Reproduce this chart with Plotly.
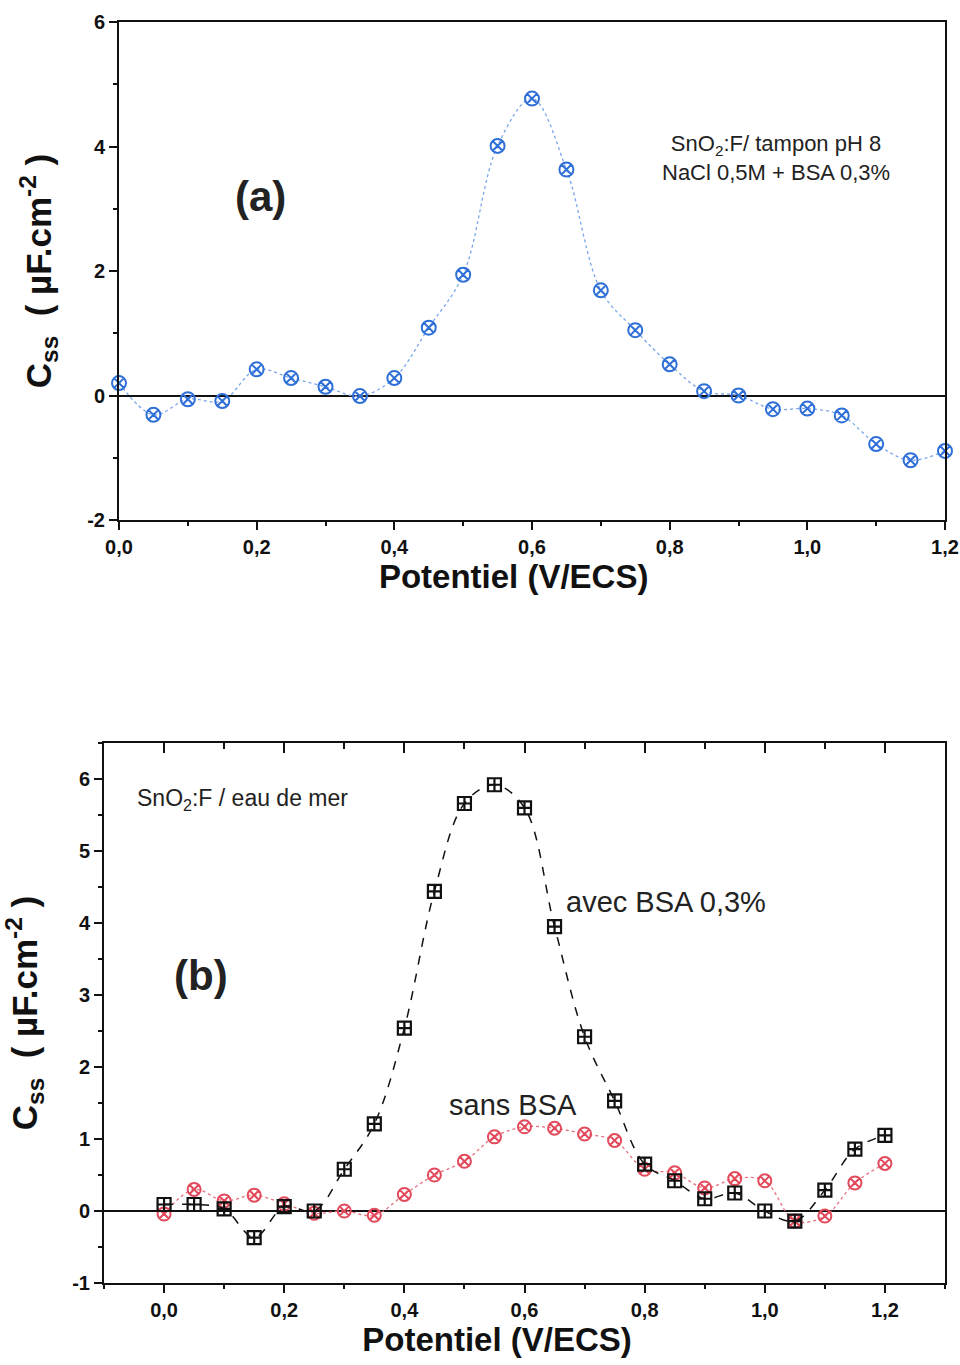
import plotly.graph_objects as go

# ---------------- data ----------------
pot_a = [0.0, 0.05, 0.10, 0.15, 0.20, 0.25, 0.30, 0.35, 0.40, 0.45, 0.50, 0.55, 0.60,
         0.65, 0.70, 0.75, 0.80, 0.85, 0.90, 0.95, 1.00, 1.05, 1.10, 1.15, 1.20]
css_a = [0.20, -0.31, -0.06, -0.09, 0.42, 0.28, 0.14, -0.01, 0.28, 1.09, 1.94, 4.01, 4.77,
         3.63, 1.69, 1.05, 0.50, 0.07, 0.00, -0.22, -0.21, -0.32, -0.78, -1.04, -0.89]

pot_b = pot_a
css_avec = [0.09, 0.09, 0.03, -0.37, 0.06, 0.00, 0.58, 1.21, 2.54, 4.44, 5.66, 5.92, 5.60,
            3.95, 2.42, 1.53, 0.65, 0.42, 0.17, 0.25, 0.00, -0.14, 0.29, 0.86, 1.05]
css_sans = [-0.04, 0.30, 0.14, 0.22, 0.10, -0.03, 0.00, -0.06, 0.23, 0.50, 0.69, 1.03, 1.17,
            1.15, 1.07, 0.98, 0.58, 0.53, 0.32, 0.45, 0.42, -0.14, -0.07, 0.39, 0.66]

xticks_a = [0.0, 0.2, 0.4, 0.6, 0.8, 1.0, 1.2]
xticklabels = ["0,0", "0,2", "0,4", "0,6", "0,8", "1,0", "1,2"]
yticks_a = [-2, 0, 2, 4, 6]
yticklabels_a = ["-2", "0", "2", "4", "6"]
yticks_b = [-1, 0, 1, 2, 3, 4, 5, 6]
yticklabels_b = ["-1", "0", "1", "2", "3", "4", "5", "6"]

# ---------------- geometry helpers ----------------
W, H, OFF = 960, 1365, 0


def px(X):
    return (X - OFF) / W


def py(Y):
    return 1 - (Y - OFF) / H


# ---------------- figure ----------------
FONT = "Liberation Sans, Arial, sans-serif"
fig = go.Figure()

fig.add_trace(go.Scatter(
    x=pot_a, y=css_a, mode="lines+markers", xaxis="x", yaxis="y",
    line=dict(color="#7aa6ea", width=1.3, dash="dot", shape="spline", smoothing=1.0),
    marker=dict(symbol="circle-x-open", size=14, color="#2f6fd8", line=dict(width=2)),
    showlegend=False, cliponaxis=False))

fig.add_trace(go.Scatter(
    x=pot_b, y=css_sans, mode="lines+markers", xaxis="x2", yaxis="y2",
    line=dict(color="#e8707e", width=1.3, dash="dot", shape="spline", smoothing=1.0),
    marker=dict(symbol="circle-x-open", size=13, color="#e24a5c", line=dict(width=2)),
    showlegend=False, cliponaxis=False))

fig.add_trace(go.Scatter(
    x=pot_b, y=css_avec, mode="lines+markers", xaxis="x2", yaxis="y2",
    line=dict(color="#111111", width=1.5, dash="dash", shape="spline", smoothing=1.0),
    marker=dict(symbol="square-cross-open", size=13, color="#111111", line=dict(width=2.2)),
    showlegend=False, cliponaxis=False))

tickfont = dict(family=FONT, size=20, color="#111111", weight="bold")
titlefont = dict(family=FONT, size=33, color="#111111", weight="bold")
ytitlefont = dict(family=FONT, size=35, color="#111111", weight="bold")

common_x = dict(showline=True, linecolor="#111111", linewidth=2, mirror=True,
                ticks="outside", ticklen=8, tickwidth=2, tickcolor="#111111",
                tickvals=xticks_a, ticktext=xticklabels, tickfont=tickfont,
                showgrid=False, zeroline=False, automargin=False,
                ticklabeloverflow="allow",
                minor=dict(ticks="outside", ticklen=4, tickwidth=2, dtick=0.1,
                           tickcolor="#111111", showgrid=False))

NB = "&nbsp;"
YTITLE = "C<sub>ss</sub>" + NB * 2 + "(" + NB + "µF.cm<sup>-2</sup>" + NB + ")"
fig.update_layout(
    width=W, height=H,
    margin=dict(l=0, r=0, t=0, b=0),
    paper_bgcolor="white", plot_bgcolor="white",
    xaxis=dict(common_x, domain=[px(119), px(945)], range=[0, 1.2], anchor="y",
               title=dict(text="Potentiel (V/ECS)" + NB * 4, font=titlefont, standoff=6)),
    yaxis=dict(domain=[py(520), py(22)], range=[-2, 6], anchor="x",
               showline=True, linecolor="#111111", linewidth=2, mirror=True,
               ticks="outside", ticklen=8, tickwidth=2, tickcolor="#111111",
               tickvals=yticks_a, ticktext=yticklabels_a, tickfont=tickfont,
               showgrid=False, zeroline=True, zerolinecolor="#111111", zerolinewidth=2,
               automargin=False, ticklabeloverflow="allow",
               minor=dict(ticks="outside", ticklen=4, tickwidth=2, dtick=1,
                          tickcolor="#111111", showgrid=False),
               title=dict(text=YTITLE, font=ytitlefont, standoff=25)),
    xaxis2=dict(common_x, domain=[px(104), px(945)], range=[-0.1, 1.3], anchor="y2",
                title=dict(text="Potentiel (V/ECS)" + NB * 6, font=titlefont, standoff=4)),
    xaxis3=dict(domain=[px(104), px(945)], range=[-0.1, 1.3], anchor="y2", overlaying="x2",
                side="top", showline=False, ticks="inside", ticklen=10, tickwidth=2,
                tickcolor="#111111", tickvals=xticks_a, showticklabels=False,
                showgrid=False, zeroline=False, automargin=False,
                minor=dict(ticks="inside", ticklen=6, tickwidth=2, dtick=0.1,
                           tickcolor="#111111", showgrid=False)),
    yaxis2=dict(domain=[py(1283), py(743)], range=[-1, 6.5], anchor="x2",
                showline=True, linecolor="#111111", linewidth=2, mirror=True,
                ticks="outside", ticklen=8, tickwidth=2, tickcolor="#111111",
                tickvals=yticks_b, ticktext=yticklabels_b, tickfont=tickfont,
                showgrid=False, zeroline=True, zerolinecolor="#111111", zerolinewidth=2,
                automargin=False, ticklabeloverflow="allow",
                minor=dict(ticks="outside", ticklen=4, tickwidth=2, dtick=0.5,
                           tickcolor="#111111", showgrid=False),
                title=dict(text=YTITLE, font=ytitlefont, standoff=40)),
)

# invisible trace so the top tick axis of panel (b) is rendered
fig.add_trace(go.Scatter(x=[None], y=[None], xaxis="x3", yaxis="y2", showlegend=False, hoverinfo="skip"))

fig.add_annotation(xref="paper", yref="paper", x=px(260), y=py(197), xanchor="center", yanchor="middle",
                   text="<b>(a)</b>", showarrow=False, font=dict(family=FONT, size=42, color="#222222"))
fig.add_annotation(xref="paper", yref="paper", x=px(776), y=py(158), xanchor="center", yanchor="middle",
                   text="SnO<sub>2</sub>:F/ tampon pH 8<br>NaCl 0,5M + BSA 0,3%",
                   showarrow=False, align="center",
                   font=dict(family=FONT, size=22, color="#222222"))
fig.add_annotation(xref="paper", yref="paper", x=px(135), y=py(799), xanchor="left", yanchor="middle",
                   text="SnO<sub>2</sub>:F / eau de mer", showarrow=False,
                   font=dict(family=FONT, size=23, color="#222222"))
fig.add_annotation(xref="paper", yref="paper", x=px(201), y=py(975), xanchor="center", yanchor="middle",
                   text="<b>(b)</b>", showarrow=False, font=dict(family=FONT, size=42, color="#222222"))
fig.add_annotation(xref="paper", yref="paper", x=px(564), y=py(902), xanchor="left", yanchor="middle",
                   text="avec BSA 0,3%", showarrow=False,
                   font=dict(family=FONT, size=29, color="#222222"))
fig.add_annotation(xref="paper", yref="paper", x=px(447), y=py(1105), xanchor="left", yanchor="middle",
                   text="sans BSA", showarrow=False,
                   font=dict(family=FONT, size=29, color="#222222"))

fig.write_html(
    "out.html",
    config={"displayModeBar": False},
    post_script="document.body.style.margin='0';document.body.style.overflow='hidden';",
)
